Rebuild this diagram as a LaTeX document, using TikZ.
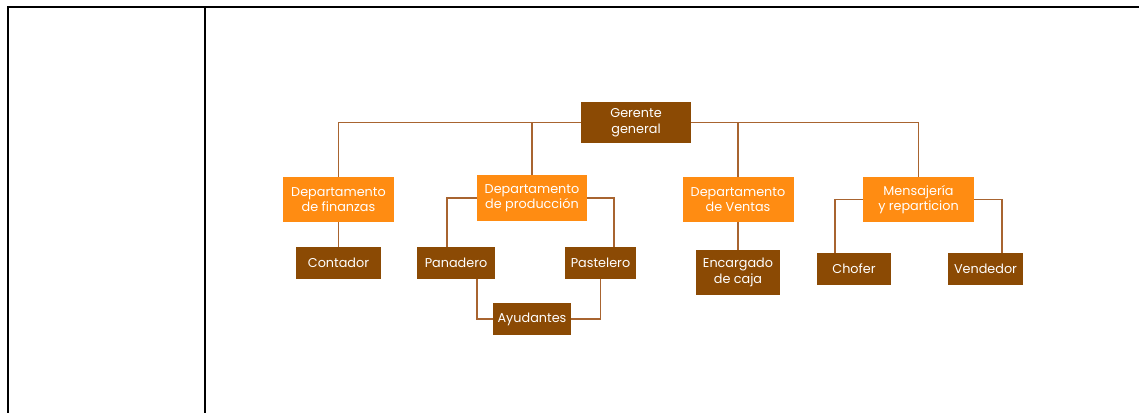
\documentclass[tikz,border=0pt]{standalone}
\usepackage{fontspec}
\setmainfont{Poppins}
\definecolor{boxbrown}{RGB}{139,74,4}
\definecolor{boxorange}{RGB}{255,140,18}
\definecolor{linebrown}{RGB}{168,100,48}
\begin{document}
\begin{tikzpicture}[x=1pt,y=-1pt,
  base/.style={rectangle,inner sep=0pt,text=white,align=center,font=\fontsize{12.8}{15.5}\selectfont},
  brownbox/.style={base,fill=boxbrown},
  orangebox/.style={base,fill=boxorange},
  conn/.style={draw=linebrown,line width=1.8pt},
  frame/.style={line width=1.8pt,black}]
\useasboundingbox (0,0) rectangle (1139,413);
% table frame
\coordinate (tl) at (8,7);
\coordinate (tr) at (1139,7);
\coordinate (bl) at (8,413);
\coordinate (dt) at (205,7);
\coordinate (db) at (205,413);
\draw[frame] (tr) -- (tl) -- (bl);
\draw[frame] (dt) -- (db);
% nodes
\node[brownbox,minimum width=110pt,minimum height=41pt] (ger) at (636,122.5) {Gerente\\general};
\node[orangebox,minimum width=111pt,minimum height=45pt] (fin) at (338.5,199.5) {Departamento\\de finanzas};
\node[orangebox,minimum width=110pt,minimum height=46pt] (prod) at (532,198) {Departamento\\de producción};
\node[orangebox,minimum width=111pt,minimum height=45pt] (ven) at (738,199.5) {Departamento\\de Ventas};
\node[orangebox,minimum width=111pt,minimum height=45pt] (men) at (918.5,199.5) {Mensajería\\y reparticion};
\node[brownbox,minimum width=85pt,minimum height=32pt] (con) at (338.5,263) {Contador};
\node[brownbox,minimum width=78pt,minimum height=32pt] (pan) at (456,263) {Panadero};
\node[brownbox,minimum width=71pt,minimum height=32pt] (pas) at (600.5,263) {Pastelero};
\node[brownbox,minimum width=78pt,minimum height=32pt] (ayu) at (532,319) {Ayudantes};
\node[brownbox,minimum width=84pt,minimum height=45pt] (enc) at (738,272.5) {Encargado\\de caja};
\node[brownbox,minimum width=74pt,minimum height=32pt] (cho) at (854,269) {Chofer};
\node[brownbox,minimum width=75pt,minimum height=32pt] (vnd) at (985.5,269) {Vendedor};
% connectors
\draw[conn] (ger.west) -| (fin.north);
\draw[conn] (ger.west) -| (prod.north);
\draw[conn] (ger.east) -| (ven.north);
\draw[conn] (ger.east) -| (men.north);
\draw[conn] (fin.south) -- (con.north);
\draw[conn] (ven.south) -- (enc.north);
\draw[conn] (prod.west) -| ([xshift=-9pt]pan.north);
\draw[conn] (prod.east) -| ([xshift=13.5pt]pas.north);
\draw[conn] ([xshift=21pt]pan.south) |- (ayu.west);
\draw[conn] (ayu.east) -| (pas.south);
\draw[conn] (men.west) -| ([xshift=-19pt]cho.north);
\draw[conn] (men.east) -| ([xshift=16.5pt]vnd.north);
\end{tikzpicture}
\end{document}
